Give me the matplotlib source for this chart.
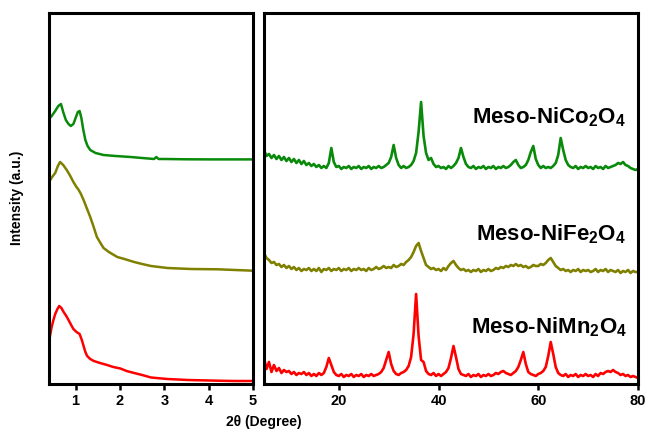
import numpy as np
import matplotlib
matplotlib.use("Agg")
import matplotlib.pyplot as plt

plt.rcParams['font.family'] = ['Liberation Sans', 'DejaVu Sans']
plt.rcParams['font.weight'] = 'bold'
plt.rcParams['mathtext.fontset'] = 'custom'
plt.rcParams['mathtext.bf'] = 'Liberation Sans:bold'
plt.rcParams['mathtext.rm'] = 'Liberation Sans:bold'

# low-angle XRD (left panel)
co_low_x = [0.40, 0.46, 0.54, 0.61, 0.67, 0.72, 0.78, 0.84, 0.89, 0.95, 1.00, 1.05, 1.09,
            1.13, 1.17, 1.22, 1.27, 1.33, 1.45, 1.63, 1.90, 2.24, 2.50, 2.77, 2.82, 2.87,
            3.00, 3.50, 4.00, 4.50, 5.00]
co_low_y = [265, 268, 273, 278, 280, 272, 264, 260, 258, 260, 266, 272, 273,
            266, 255, 244, 238, 234, 231, 229, 228, 227, 226, 225, 227, 225,
            225, 224.7, 224.6, 224.6, 224.6]

fe_low_x = [0.40, 0.47, 0.54, 0.60, 0.65, 0.72, 0.80, 0.88, 0.95, 1.02, 1.07, 1.12, 1.18,
            1.25, 1.33, 1.40, 1.48, 1.56, 1.63, 1.75, 1.94, 2.10, 2.32, 2.50, 2.70, 3.07,
            3.60, 4.21, 4.60, 5.00]
fe_low_y = [202, 207, 211, 218, 222, 219, 214, 208, 202, 197, 194, 190, 184,
            176, 167, 158, 147, 141, 136, 132, 127, 125, 122, 120, 118, 116,
            115, 114.7, 114, 113.3]

mn_low_x = [0.40, 0.43, 0.46, 0.50, 0.54, 0.59, 0.63, 0.68, 0.73, 0.79, 0.84, 0.90, 0.95,
            1.02, 1.09, 1.14, 1.18, 1.22, 1.26, 1.33, 1.41, 1.55, 1.71, 1.85, 2.01, 2.15,
            2.32, 2.50, 2.70, 3.07, 3.53, 4.21, 4.60, 5.00]
mn_low_y = [42, 50, 57, 64, 70, 75, 78, 76, 72, 68, 64, 59, 55,
            52, 50, 44, 38, 32, 28, 25, 23, 21, 19, 17, 15.5, 13,
            11, 9, 6.5, 5, 4, 3.3, 3, 3]

# wide-angle XRD (right panel), 0.5 degree steps
wide_x = np.arange(5.0, 80.01, 0.5)
co_wide = [234, 228, 230, 226, 229, 225, 228, 224, 227, 223,
           226, 222, 225, 221, 224, 220, 223, 219, 221, 218,
           220, 217, 219, 216, 218, 216, 221, 236, 222, 217,
           218, 215, 217, 216, 218, 215, 217, 216, 218, 215,
           217, 216, 218, 215, 217, 216, 218, 216, 217, 219,
           221, 227, 239, 226, 219, 216, 218, 216, 217, 219,
           223, 231, 252, 282, 248, 231, 224, 226, 220, 217,
           218, 216, 217, 215, 218, 216, 218, 221, 226, 236,
           227, 220, 217, 216, 218, 215, 217, 216, 218, 215,
           217, 216, 218, 215, 217, 216, 218, 216, 217, 219,
           222, 224, 219, 216, 217, 219, 224, 232, 238, 225,
           219, 216, 218, 216, 217, 216, 218, 221, 229, 246,
           234, 224, 219, 217, 216, 218, 215, 217, 216, 218,
           216, 217, 215, 218, 216, 217, 215, 218, 216, 217,
           218, 219, 221, 220, 222, 219, 218, 216, 215, 214,
           215]
fe_wide = [131, 126, 124, 121, 122, 119, 120, 117, 119, 116,
           118, 115, 117, 114, 116, 113, 115, 114, 116, 113,
           115, 113, 116, 112, 115, 114, 116, 113, 115, 114,
           116, 113, 115, 114, 116, 113, 115, 114, 116, 114,
           115, 113, 116, 114, 115, 117, 115, 116, 118, 116,
           117, 116, 119, 117, 118, 120, 119, 122, 124, 127,
           132, 138, 141, 133, 126, 119, 117, 115, 116, 114,
           115, 113, 116, 114, 118, 121, 123, 119, 116, 114,
           115, 113, 114, 112, 114, 113, 115, 112, 114, 113,
           115, 113, 114, 116, 115, 117, 116, 118, 117, 119,
           118, 120, 118, 119, 117, 118, 116, 117, 119, 118,
           118, 120, 119, 121, 124, 126, 122, 118, 116, 114,
           115, 113, 114, 112, 114, 113, 115, 112, 114, 113,
           114, 112, 113, 115, 112, 114, 113, 115, 112, 114,
           113, 112, 114, 111, 113, 112, 114, 111, 113, 112,
           112]
mn_wide = [26, 15, 22, 12, 19, 13, 16, 11, 14, 12,
           13, 10, 12, 9, 11, 10, 12, 9, 11, 8,
           10, 8, 11, 9, 11, 17, 26, 19, 12, 9,
           8, 10, 7, 9, 8, 10, 7, 9, 8, 10,
           7, 9, 8, 10, 8, 9, 10, 12, 16, 24,
           32, 20, 13, 10, 9, 11, 12, 14, 18, 27,
           50, 90, 48, 24, 22, 13, 10, 9, 11, 8,
           10, 8, 10, 12, 16, 26, 38, 27, 15, 10,
           9, 8, 10, 7, 9, 8, 10, 7, 9, 8,
           10, 8, 9, 11, 10, 12, 13, 11, 10, 9,
           11, 13, 17, 24, 32, 20, 12, 10, 9, 8,
           10, 11, 13, 17, 28, 42, 30, 17, 11, 9,
           8, 10, 7, 9, 8, 10, 7, 9, 8, 10,
           8, 9, 7, 10, 8, 11, 10, 12, 13, 12,
           14, 12, 11, 9, 10, 8, 9, 7, 8, 7,
           6]

names = [r'Meso-NiCo$_\mathbf{2}$O$_\mathbf{4}$',
         r'Meso-NiFe$_\mathbf{2}$O$_\mathbf{4}$',
         r'Meso-NiMn$_\mathbf{2}$O$_\mathbf{4}$']
colors = ['#0a8a0a', '#808000', '#ff0000']

fig = plt.figure(figsize=(6.48, 4.30), dpi=100)
ax1 = fig.add_axes([49/648, 46/430, 204/648, 371.5/430])
ax2 = fig.add_axes([264/648, 46/430, 374/648, 371.5/430])

ax1.plot(co_low_x, co_low_y, color=colors[0], lw=1.8)
ax1.plot(fe_low_x, fe_low_y, color=colors[1], lw=1.8)
ax1.plot(mn_low_x, mn_low_y, color=colors[2], lw=1.8)

ax2.plot(wide_x, co_wide, color=colors[0], lw=1.9)
ax2.plot(wide_x, fe_wide, color=colors[1], lw=1.9)
ax2.plot(wide_x, mn_wide, color=colors[2], lw=1.9)

ax1.set_xlim(0.4, 5)
ax2.set_xlim(5, 80)
ax1.set_xticks([1, 2, 3, 4, 5])
ax2.set_xticks([20, 40, 60, 80])
for ax in (ax1, ax2):
    ax.set_ylim(0, 371.5)
    ax.set_yticks([])
    for s in ax.spines.values():
        s.set_linewidth(2.2)
    ax.tick_params(axis='x', direction='out', length=4, width=1.8, labelsize=10.5, pad=3)
    for lab in ax.get_xticklabels():
        lab.set_fontweight('bold')

ax2.text(77.5, 261, names[0], ha='right', va='baseline', fontsize=16, fontweight='bold')
ax2.text(77.5, 144, names[1], ha='right', va='baseline', fontsize=16, fontweight='bold')
ax2.text(77.8, 51, names[2], ha='right', va='baseline', fontsize=16, fontweight='bold')

fig.text(17/648, 1 - 198/430, 'Intensity (a.u.)', rotation=90, ha='center', va='center',
         fontsize=10, fontweight='bold')
fig.text(264/648, 15/430, '2θ (Degree)', ha='center', va='top', fontsize=10, fontweight='bold')

fig.savefig('out.png', dpi=100)
